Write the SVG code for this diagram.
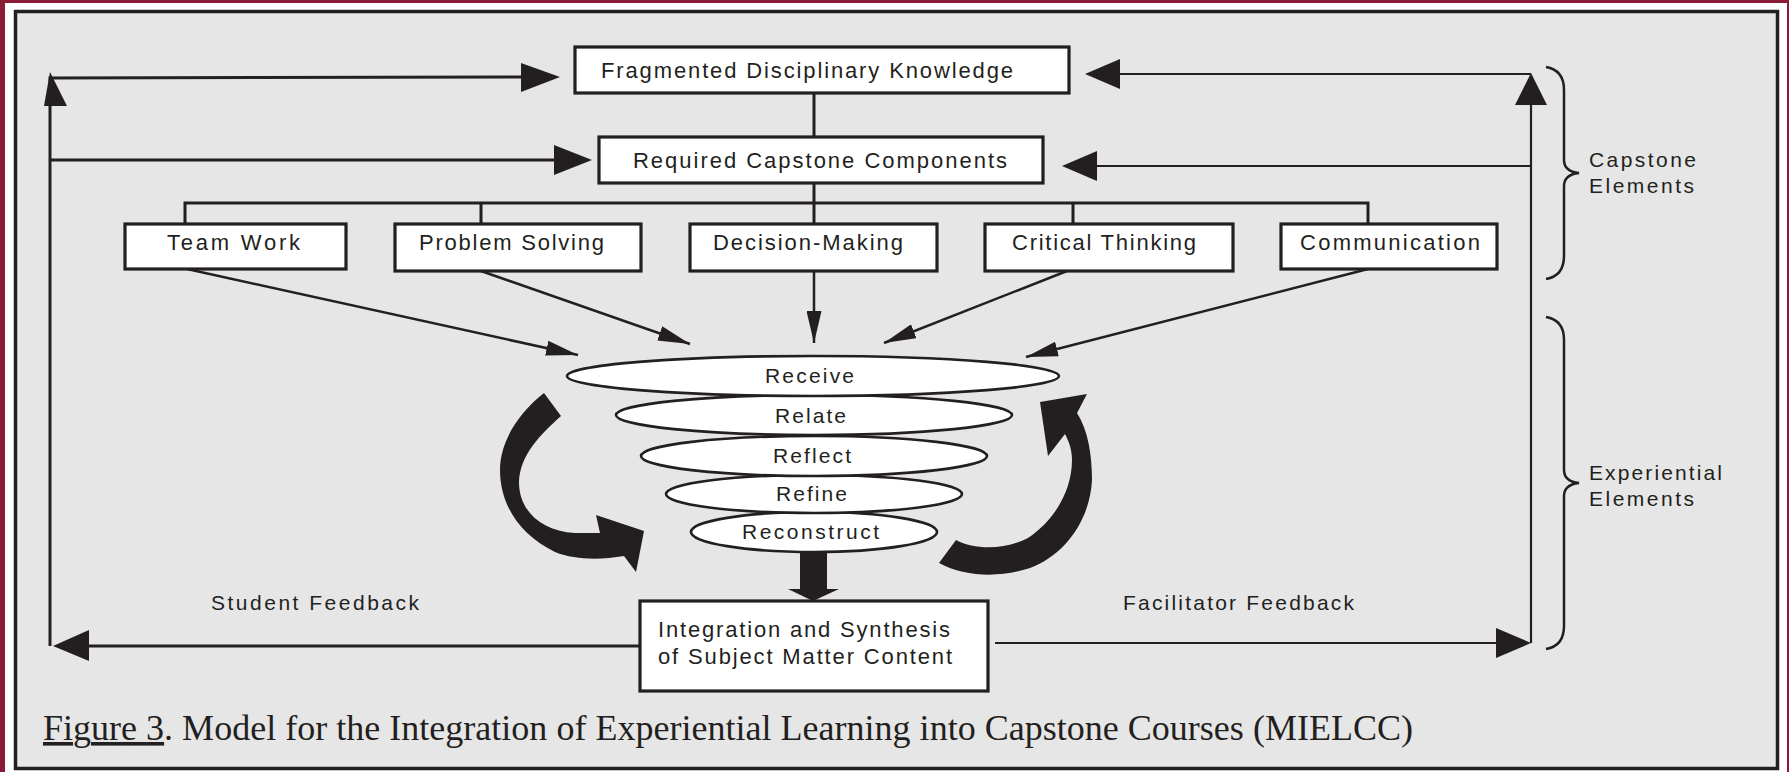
<svg xmlns="http://www.w3.org/2000/svg" width="1789" height="772" viewBox="0 0 1789 772">
<defs>
<style>
.box{fill:#fff;stroke:#231f20;stroke-width:3.2}
.ell{fill:#fff;stroke:#231f20;stroke-width:2.6}
.ln{stroke:#231f20;stroke-width:3;fill:none}
.ln2{stroke:#231f20;stroke-width:2.2;fill:none}
.thin{stroke:#231f20;stroke-width:2.5;fill:none;marker-end:url(#ah)}
.hd{fill:#231f20}
.lbl{font-family:"Liberation Sans",Arial,Helvetica,sans-serif;font-size:22px;fill:#231f20}
.sm{font-size:21px}
.cap{font-family:"Liberation Serif","Times New Roman",serif;font-size:36px;fill:#231f20}
.brace{stroke:#231f20;stroke-width:2.5;fill:none}
</style>
<marker id="ah" viewBox="0 0 32 15" refX="32" refY="7.5" markerWidth="32" markerHeight="15" markerUnits="userSpaceOnUse" orient="auto">
<path d="M0,0 L32,7.5 L0,15 Z" fill="#231f20"/>
</marker>
</defs>
<rect x="0" y="0" width="1789" height="772" fill="#8a1b36"/>
<rect x="5" y="3" width="1782" height="772" fill="#ffffff"/>
<rect x="15.5" y="11.5" width="1762" height="757" fill="#e6e6e6" stroke="#231f20" stroke-width="3.5"/>

<g id="connectors">
<line class="ln" x1="814" y1="93" x2="814" y2="137"/>
<line class="ln" x1="814" y1="183" x2="814" y2="224"/>
<polyline class="ln" points="185,224 185,203 1368,203 1368,224"/>
<line class="ln" x1="481" y1="203" x2="481" y2="224"/>
<line class="ln" x1="1073" y1="203" x2="1073" y2="224"/>
<line class="thin" x1="187" y1="269" x2="578" y2="355"/>
<line class="thin" x1="481" y1="271" x2="690" y2="344"/>
<line class="thin" x1="814" y1="271" x2="814" y2="343"/>
<line class="thin" x1="1067" y1="271" x2="884" y2="343"/>
<line class="thin" x1="1368" y1="269" x2="1026" y2="357"/>
<polyline class="ln" points="50,646 50,78 521,77"/>
<polygon class="hd" points="50,72 44,106 67,106"/>
<polygon class="hd" points="521,63 560,77 521,92"/>
<line class="ln" x1="50" y1="160" x2="555" y2="160"/>
<polygon class="hd" points="554,145 592,160 554,175"/>
<line class="ln" x1="640" y1="646" x2="85" y2="646"/>
<polygon class="hd" points="89,630 53,646 89,661"/>
<polyline class="ln2" points="995,643 1498,643"/>
<polygon class="hd" points="1496,628 1531,643 1496,658"/>
<line class="ln2" x1="1531" y1="643" x2="1531" y2="100"/>
<polygon class="hd" points="1515,105 1531,73 1547,105"/>
<line class="ln2" x1="1531" y1="74" x2="1118" y2="74"/>
<polygon class="hd" points="1120,59 1085,74 1120,89"/>
<line class="ln2" x1="1531" y1="166" x2="1095" y2="166"/>
<polygon class="hd" points="1097,151 1062,166 1097,181"/>
<polygon class="hd" points="800,553 827,553 827,589 839,589 813,601 788,589 800,589"/>
<path class="hd" d="M544,393 L561,416 C540,435 520,455 519,482 C519,510 540,531 575,533 L600,533 L596,515 L644,531 L636,572 L624,556 C600,560 575,560 555,552 C520,535 500,505 500,470 C500,440 520,412 544,393 Z"/>
<path class="hd" d="M939,563 L956,540 C975,550 1005,550 1028,538 C1055,520 1072,490 1072,460 C1072,448 1068,440 1065,434 L1048,456 L1040,402 L1087,394 L1077,413 C1088,430 1092,455 1092,480 C1090,520 1065,555 1030,568 C1000,578 965,577 939,563 Z"/>
</g>

<g id="node-fdk">
<rect class="box" x="575" y="47" width="494" height="46"/>
<text class="lbl" x="601" y="78" textLength="412" lengthAdjust="spacing">Fragmented Disciplinary Knowledge</text>
</g>
<g id="node-rcc">
<rect class="box" x="599" y="137" width="444" height="46"/>
<text class="lbl" x="633" y="168" textLength="374" lengthAdjust="spacing">Required Capstone Components</text>
</g>
<g id="node-teamwork">
<rect class="box" x="125" y="224" width="221" height="45"/>
<text class="lbl" x="167" y="250" textLength="133" lengthAdjust="spacing">Team Work</text>
</g>
<g id="node-problem">
<rect class="box" x="395" y="224" width="246" height="47"/>
<text class="lbl" x="419" y="250" textLength="185" lengthAdjust="spacing">Problem Solving</text>
</g>
<g id="node-decision">
<rect class="box" x="690" y="224" width="247" height="47"/>
<text class="lbl" x="713" y="250" textLength="190" lengthAdjust="spacing">Decision-Making</text>
</g>
<g id="node-critical">
<rect class="box" x="985" y="224" width="248" height="47"/>
<text class="lbl" x="1012" y="250" textLength="184" lengthAdjust="spacing">Critical Thinking</text>
</g>
<g id="node-communication">
<rect class="box" x="1281" y="224" width="216" height="45"/>
<text class="lbl" x="1300" y="250" textLength="180" lengthAdjust="spacing">Communication</text>
</g>

<g id="node-reconstruct">
<ellipse class="ell" cx="814" cy="532" rx="123" ry="20"/>
<text class="lbl sm" x="742" y="539" textLength="137" lengthAdjust="spacing">Reconstruct</text>
</g>
<g id="node-refine">
<ellipse class="ell" cx="814" cy="494" rx="148" ry="19"/>
<text class="lbl sm" x="776" y="501" textLength="71" lengthAdjust="spacing">Refine</text>
</g>
<g id="node-reflect">
<ellipse class="ell" cx="814" cy="456" rx="173" ry="20"/>
<text class="lbl sm" x="773" y="463" textLength="78" lengthAdjust="spacing">Reflect</text>
</g>
<g id="node-relate">
<ellipse class="ell" cx="814" cy="415" rx="198" ry="20"/>
<text class="lbl sm" x="775" y="423" textLength="71" lengthAdjust="spacing">Relate</text>
</g>
<g id="node-receive">
<ellipse class="ell" cx="813" cy="376" rx="246" ry="20"/>
<text class="lbl sm" x="765" y="383" textLength="89" lengthAdjust="spacing">Receive</text>
</g>

<g id="node-integration">
<rect class="box" x="640" y="601" width="348" height="90"/>
<text class="lbl" x="658" y="637" textLength="292" lengthAdjust="spacing">Integration and Synthesis</text>
<text class="lbl" x="658" y="664" textLength="294" lengthAdjust="spacing">of Subject Matter Content</text>
</g>

<g id="label-student">
<text class="lbl sm" x="211" y="610" textLength="208" lengthAdjust="spacing">Student Feedback</text>
</g>
<g id="label-facilitator">
<text class="lbl sm" x="1123" y="610" textLength="231" lengthAdjust="spacing">Facilitator Feedback</text>
</g>

<g id="brace-capstone">
<path class="brace" d="M1546,67 C1558,69 1564,76 1564,90 L1564,160 C1564,168 1570,172 1579,173 C1570,174 1564,178 1564,186 L1564,256 C1564,270 1558,277 1546,279"/>
<text class="lbl sm" x="1589" y="167" textLength="107" lengthAdjust="spacing">Capstone</text>
<text class="lbl sm" x="1589" y="193" textLength="105" lengthAdjust="spacing">Elements</text>
</g>
<g id="brace-experiential">
<path class="brace" d="M1546,317 C1558,319 1564,326 1564,340 L1564,470 C1564,478 1570,482 1579,483 C1570,484 1564,488 1564,496 L1564,626 C1564,640 1558,647 1546,649"/>
<text class="lbl sm" x="1589" y="480" textLength="133" lengthAdjust="spacing">Experiential</text>
<text class="lbl sm" x="1589" y="506" textLength="105" lengthAdjust="spacing">Elements</text>
</g>

<g id="caption">
<text class="cap" x="43" y="740" textLength="1370" lengthAdjust="spacing"><tspan text-decoration="underline">Figure 3</tspan>. Model for the Integration of Experiential Learning into Capstone Courses (MIELCC)</text>
</g>
</svg>
